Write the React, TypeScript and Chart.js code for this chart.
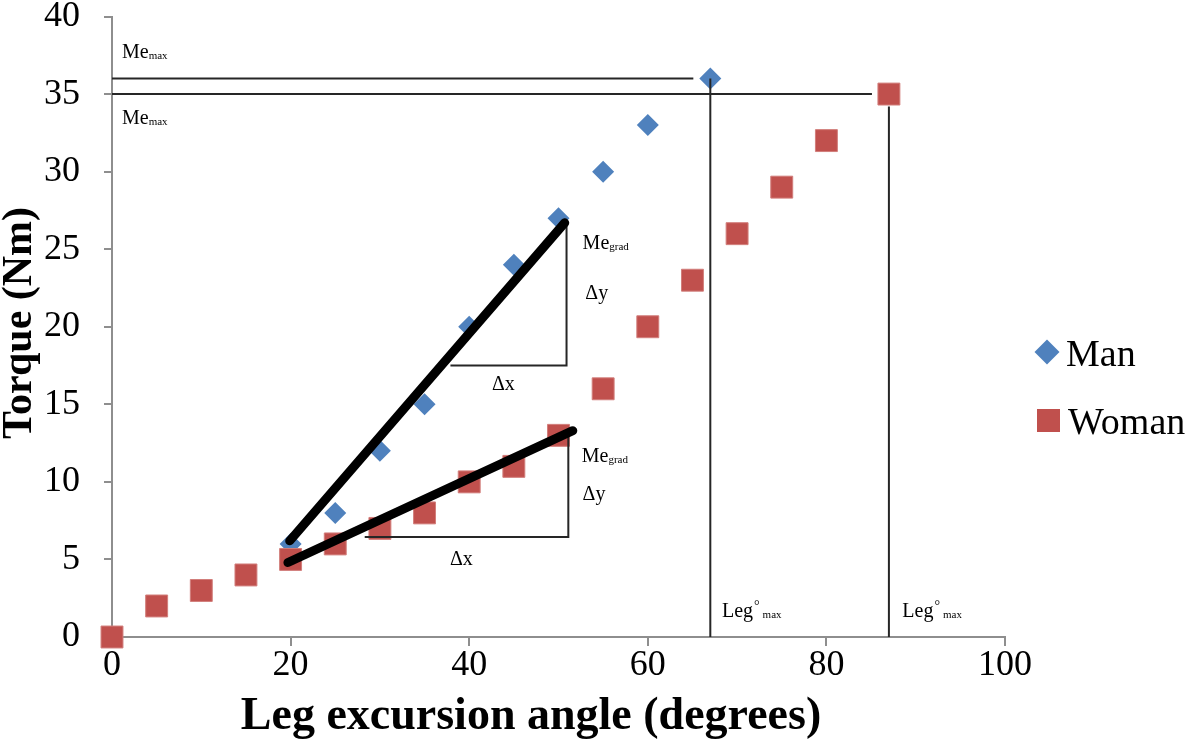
import React, { useEffect, useRef } from 'react';
import { Chart, registerables } from 'chart.js';

Chart.register(...registerables);

const SERIF = "'Liberation Serif', 'Times New Roman', serif";

// Series data
const manAngles = [0, 5, 10, 15, 20, 25, 30, 35, 40, 45, 50, 55, 60, 67];
const manTorque = [0, 2, 3, 4, 6, 8, 12, 15, 20, 24, 27, 30, 33, 36];

const womanAngles = [0, 5, 10, 15, 20, 25, 30, 35, 40, 45, 50, 55, 60, 65, 70, 75, 80, 87];
const womanTorque = [0, 2, 3, 4, 5, 6, 7, 8, 10, 11, 13, 16, 20, 23, 26, 29, 32, 35];

// Axis ticks
const xTickStep = 20;
const yTickStep = 5;
const xRange = [0, 100];
const yRange = [0, 40];

// Annotation guide lines (data coordinates: [angle, torque])
const manMaxHLine = [[0, 36], [65.1, 36]];
const womanMaxHLine = [[0, 35], [85.1, 35]];
const manMaxVLine = [[67, 36], [67, 0]];
const womanMaxVLine = [[87, 34.2], [87, 0]];
const manSlope = [[19.9, 6.2], [50.7, 26.7]];
const womanSlope = [[19.7, 4.8], [51.6, 13.3]];
const manTriangle = [[50.9, 26.6], [50.9, 17.5], [37.9, 17.5]];
const womanTriangle = [[51.1, 13.2], [51.1, 6.45], [28.3, 6.45]];

const toPts = (xs: number[], ys: number[]) => xs.map((x, i) => ({ x, y: ys[i] }));
const pairPts = (arr: number[][]) => arr.map(([x, y]) => ({ x, y }));

type Label = { main: string; sup?: string; sub?: string; x: number; y: number };
const annotationLabels: Label[] = [
  { main: 'Me', sub: 'max', x: 1.12, y: 37.3 },
  { main: 'Me', sub: 'max', x: 1.12, y: 33.1 },
  { main: 'Me', sub: 'grad', x: 52.7, y: 25.0 },
  { main: 'Δy', x: 53.0, y: 21.8 },
  { main: 'Δx', x: 42.55, y: 15.9 },
  { main: 'Me', sub: 'grad', x: 52.6, y: 11.25 },
  { main: 'Δy', x: 52.7, y: 8.8 },
  { main: 'Δx', x: 37.85, y: 4.63 },
  { main: 'Leg', sup: '°', sub: 'max', x: 68.3, y: 1.29 },
  { main: 'Leg', sup: '°', sub: 'max', x: 88.5, y: 1.29 },
];

const annotationPlugin = {
  id: 'annotations',
  afterDraw(chart: any) {
    const { ctx, scales } = chart;
    const xs = scales.x;
    const ys = scales.y;
    ctx.save();
    ctx.fillStyle = '#000';
    ctx.textBaseline = 'alphabetic';
    ctx.textAlign = 'left';
    for (const l of annotationLabels) {
      let px = xs.getPixelForValue(l.x);
      const py = ys.getPixelForValue(l.y);
      ctx.font = `20px ${SERIF}`;
      ctx.fillText(l.main, px, py);
      px += ctx.measureText(l.main).width;
      if (l.sup) {
        ctx.font = `14px ${SERIF}`;
        ctx.fillText(l.sup, px + 1, py - 7);
        px += ctx.measureText(l.sup).width + 4;
      }
      if (l.sub) {
        ctx.font = `11px ${SERIF}`;
        ctx.fillText(l.sub, px, py + 1);
      }
    }

    // Axis titles
    ctx.font = `bold 46px ${SERIF}`;
    ctx.textAlign = 'center';
    ctx.fillText('Leg excursion angle (degrees)', 531, 729);

    ctx.save();
    ctx.translate(31, 323);
    ctx.rotate(-Math.PI / 2);
    ctx.font = `bold 42px ${SERIF}`;
    ctx.fillText('Torque (Nm)', 0, 0);
    ctx.restore();

    // Legend
    ctx.textAlign = 'left';
    ctx.font = `38px ${SERIF}`;
    ctx.fillStyle = '#4F81BD';
    ctx.beginPath();
    const dx = 1047, dy = 352, dr = 12.5;
    ctx.moveTo(dx, dy - dr);
    ctx.lineTo(dx + dr, dy);
    ctx.lineTo(dx, dy + dr);
    ctx.lineTo(dx - dr, dy);
    ctx.closePath();
    ctx.fill();
    ctx.fillStyle = '#000';
    ctx.fillText('Man', 1066, 366);
    ctx.fillStyle = '#C0504D';
    ctx.fillRect(1037, 409, 23, 23);
    ctx.fillStyle = '#000';
    ctx.fillText('Woman', 1068, 434);
    ctx.restore();
  },
};

export default function App() {
  const ref = useRef<HTMLCanvasElement>(null);

  useEffect(() => {
    document.body.style.margin = '0';
    if (!ref.current) return;
    const thin = (arr: number[][]) => ({
      data: pairPts(arr),
      showLine: true,
      pointRadius: 0,
      borderColor: '#262626',
      borderWidth: 2,
      fill: false,
      tension: 0,
      clip: false,
      order: 1,
    });
    const thick = (arr: number[][]) => ({
      data: pairPts(arr),
      showLine: true,
      pointRadius: 0,
      borderColor: '#000000',
      borderWidth: 9,
      borderCapStyle: 'round',
      fill: false,
      tension: 0,
      clip: false,
      order: 0,
    });
    const chart = new Chart(ref.current, {
      type: 'scatter',
      data: {
        datasets: [
          {
            label: 'Man',
            data: toPts(manAngles, manTorque),
            pointStyle: 'rectRot',
            pointRadius: 11,
            backgroundColor: '#4F81BD',
            borderColor: '#4F81BD',
            borderWidth: 0,
            clip: false,
            order: 3,
          },
          {
            label: 'Woman',
            data: toPts(womanAngles, womanTorque),
            pointStyle: 'rect',
            pointRadius: 15.5,
            backgroundColor: '#C0504D',
            borderColor: '#D27E7B',
            borderWidth: 1,
            clip: false,
            order: 2,
          },
          thin(manMaxHLine) as any,
          thin(womanMaxHLine) as any,
          thin(manMaxVLine) as any,
          thin(womanMaxVLine) as any,
          thin(manTriangle) as any,
          thin(womanTriangle) as any,
          thick(manSlope) as any,
          thick(womanSlope) as any,
        ],
      },
      options: {
        animation: false,
        responsive: true,
        maintainAspectRatio: false,
        events: [],
        layout: { padding: { left: 0, top: 14.5, right: 195, bottom: 0 } },
        plugins: {
          legend: { display: false },
          tooltip: { enabled: false },
        },
        scales: {
          x: {
            type: 'linear',
            min: xRange[0],
            max: xRange[1],
            afterFit: (s: any) => {
              s.height = 108;
              s.paddingLeft = 0;
              s.paddingRight = 0;
            },
            ticks: {
              stepSize: xTickStep,
              color: '#000',
              padding: 2,
              font: { family: SERIF, size: 36, lineHeight: 1 },
            },
            grid: {
              drawOnChartArea: false,
              drawTicks: true,
              tickLength: 9,
              color: '#8e8e8e',
              lineWidth: 2,
            },
            border: { color: '#8e8e8e', width: 2 },
          },
          y: {
            type: 'linear',
            min: yRange[0],
            max: yRange[1],
            afterFit: (s: any) => {
              s.width = 112;
              s.paddingTop = 0;
              s.paddingBottom = 0;
            },
            ticks: {
              stepSize: yTickStep,
              color: '#000',
              padding: 24,
              font: { family: SERIF, size: 36, lineHeight: 1 },
            },
            grid: {
              drawOnChartArea: false,
              drawTicks: true,
              tickLength: 8,
              color: '#8e8e8e',
              lineWidth: 2,
            },
            border: { color: '#8e8e8e', width: 2 },
          },
        },
      } as any,
      plugins: [annotationPlugin],
    });
    return () => chart.destroy();
  }, []);

  return (
    <div style={{ position: 'absolute', left: 0, top: 0, width: 1200, height: 745 }}>
      <canvas ref={ref} />
    </div>
  );
}
